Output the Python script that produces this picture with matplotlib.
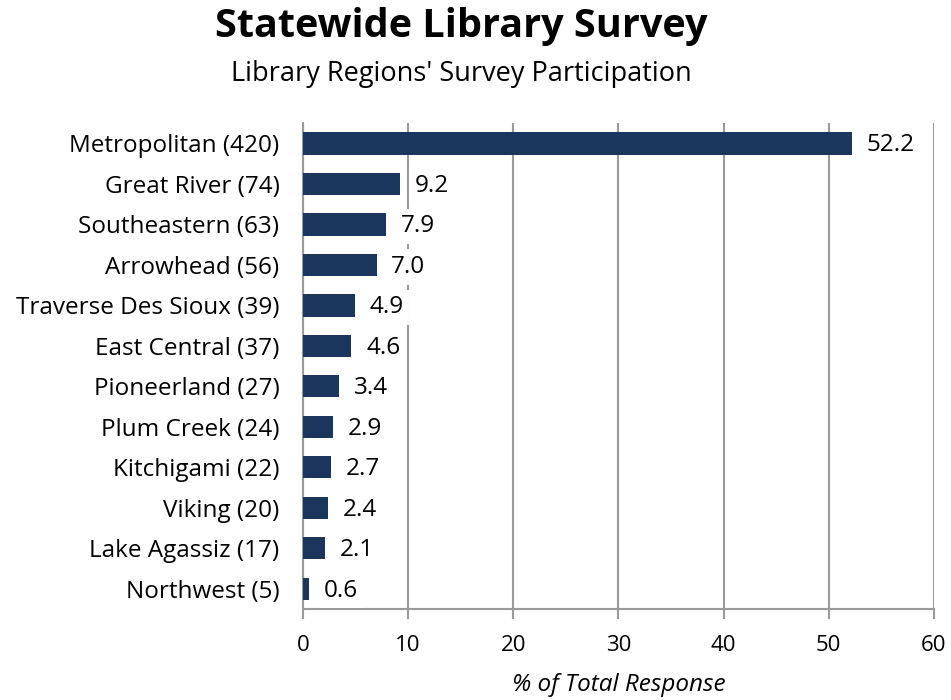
import matplotlib.pyplot as plt

plt.rcParams["font.family"] = ["Open Sans", "DejaVu Sans"]

regions = [
    "Metropolitan (420)", "Great River (74)", "Southeastern (63)",
    "Arrowhead (56)", "Traverse Des Sioux (39)", "East Central (37)",
    "Pioneerland (27)", "Plum Creek (24)", "Kitchigami (22)",
    "Viking (20)", "Lake Agassiz (17)", "Northwest (5)",
]
pct = [52.2, 9.2, 7.9, 7.0, 4.9, 4.6, 3.4, 2.9, 2.7, 2.4, 2.1, 0.6]
xticks = [0, 10, 20, 30, 40, 50, 60]

bar_color = "#1b365d"
grid_color = "#9a9a9a"

fig = plt.figure(figsize=(9.51, 7.0), dpi=100)
ax = fig.add_axes([0.3186, 0.13, 0.6634, 0.694])

ypos = list(range(len(regions)))
ax.barh(ypos, pct, height=0.55, color=bar_color, zorder=3)
ax.set_ylim(len(regions) - 0.5, -0.5)
ax.set_xlim(0, 60)
ax.set_xticks(xticks)
ax.set_yticks(ypos)
ax.set_yticklabels(regions, fontsize=17.5)
ax.tick_params(axis="y", length=0, pad=17)
ax.tick_params(axis="x", length=7, color=grid_color, width=1.5, labelsize=16, pad=12)

ax.grid(axis="x", color=grid_color, linewidth=1.5, zorder=0)
for side in ["top", "right"]:
    ax.spines[side].set_visible(False)
for side in ["left", "bottom"]:
    ax.spines[side].set_color(grid_color)
    ax.spines[side].set_linewidth(1.5)

for y, v in zip(ypos, pct):
    ax.text(v + 1.4, y + 0.05, f"{v:.1f}", va="center", ha="left", fontsize=17.5,
            bbox=dict(facecolor="white", edgecolor="none", pad=4), zorder=4)

ax.set_xlabel("% of Total Response", fontsize=17.5, style="italic", labelpad=12)

fig.text(0.485, 0.962, "Statewide Library Survey", ha="center", va="center",
         fontsize=28.5, fontweight="bold")
fig.text(0.485, 0.895, "Library Regions' Survey Participation", ha="center",
         va="center", fontsize=19.5)

fig.savefig("out.png", dpi=100)
